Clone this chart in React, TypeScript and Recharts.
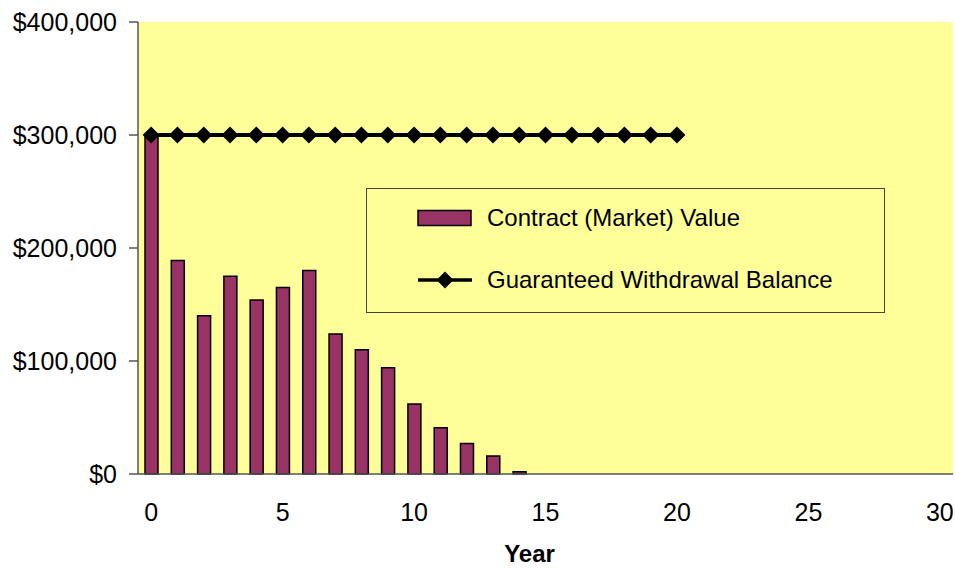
import {
  Bar,
  CartesianGrid,
  ComposedChart,
  Legend,
  Line,
  XAxis,
  YAxis,
} from "recharts";

const years = [
  0, 1, 2, 3, 4, 5, 6, 7, 8, 9, 10, 11, 12, 13, 14, 15, 16, 17, 18, 19, 20,
  21, 22, 23, 24, 25, 26, 27, 28, 29, 30,
];

const contractValue = [
  300000, 189000, 140000, 175000, 154000, 165000, 180000, 124000, 110000,
  94000, 62000, 41000, 27000, 16000, 2000, 0, 0, 0, 0, 0, 0, 0, 0, 0, 0, 0, 0,
  0, 0, 0, 0,
];

// guaranteed balance only runs through year 20
const guaranteedBalance = [
  300000, 300000, 300000, 300000, 300000, 300000, 300000, 300000, 300000,
  300000, 300000, 300000, 300000, 300000, 300000, 300000, 300000, 300000,
  300000, 300000, 300000,
];

const yTicks = [0, 100000, 200000, 300000, 400000];

const data = years.map((year, i) => ({
  year,
  contract: contractValue[i],
  gwb: i < guaranteedBalance.length ? guaranteedBalance[i] : null,
}));

const FONT = '"Liberation Sans", Arial, sans-serif';
const PLOT_BG = "#FFFF99";
const BAR_COLOR = "#993366";
const AXIS_COLOR = "#555555";

const fmtMoney = (v: number) => `$${v.toLocaleString("en-US")}`;

function Diamond(props: any) {
  const { cx, cy, index } = props;
  if (cx == null || cy == null || props.value == null) return <g key={`d-${index}`} />;
  const r = 8.5;
  return (
    <path
      key={`d-${index}`}
      d={`M${cx},${cy - r} L${cx + r},${cy} L${cx},${cy + r} L${cx - r},${cy} Z`}
      fill="#000"
    />
  );
}

function LegendBox() {
  const text = { fontFamily: FONT, fontSize: 24, color: "#000", lineHeight: "24px" };
  return (
    <div
      style={{
        width: 519,
        height: 125,
        background: PLOT_BG,
        border: "1px solid #444",
        boxSizing: "border-box",
        position: "relative",
      }}
    >
      <div style={{ position: "absolute", left: 50, top: 17, display: "flex", alignItems: "center" }}>
        <svg width={56} height={18}>
          <rect x={1} y={1.5} width={53} height={15} fill={BAR_COLOR} stroke="#000" strokeWidth={1.5} />
        </svg>
        <span style={{ ...text, marginLeft: 14 }}>Contract (Market) Value</span>
      </div>
      <div style={{ position: "absolute", left: 50, top: 79, display: "flex", alignItems: "center" }}>
        <svg width={56} height={20}>
          <line x1={1} y1={10} x2={55} y2={10} stroke="#000" strokeWidth={3.5} />
          <path d="M28,1.5 L36.5,10 L28,18.5 L19.5,10 Z" fill="#000" />
        </svg>
        <span style={{ ...text, marginLeft: 14 }}>Guaranteed Withdrawal Balance</span>
      </div>
    </div>
  );
}

export default function App() {
  return (
    <div style={{ position: "absolute", left: 0, top: 0, background: "#fff" }}>
      <ComposedChart
        width={955}
        height={569}
        data={data}
        margin={{ top: 22, right: 2, bottom: 0, left: 0 }}
        barCategoryGap="0%"
      >
        <CartesianGrid horizontal={false} vertical={false} fill={PLOT_BG} />
        <XAxis
          dataKey="year"
          type="category"
          interval={4}
          height={95}
          tickLine={false}
          tickSize={0}
          tickMargin={29}
          axisLine={{ stroke: AXIS_COLOR, strokeWidth: 1.5 }}
          tick={{ fill: "#000", fontSize: 25, fontFamily: FONT }}
          label={{
            value: "Year",
            position: "insideBottom",
            offset: 7,
            dx: -16,
            style: { fill: "#000", fontSize: 24, fontWeight: "bold", fontFamily: FONT },
          }}
        />
        <XAxis
          xAxisId="top"
          orientation="top"
          height={0}
          tick={false}
          tickLine={false}
          axisLine={{ stroke: "#888", strokeWidth: 1.5 }}
        />
        <YAxis
          width={138}
          domain={[0, 400000]}
          ticks={yTicks}
          interval={0}
          tickFormatter={fmtMoney}
          tickSize={9}
          tickMargin={12}
          tickLine={{ stroke: AXIS_COLOR, strokeWidth: 1.5 }}
          axisLine={{ stroke: AXIS_COLOR, strokeWidth: 1.5 }}
          tick={{ fill: "#000", fontSize: 25, fontFamily: FONT }}
        />
        <YAxis
          yAxisId="right"
          orientation="right"
          width={0}
          tick={false}
          tickLine={false}
          axisLine={{ stroke: "#888", strokeWidth: 1.5 }}
        />
        <Legend
          layout="vertical"
          align="center"
          verticalAlign="middle"
          wrapperStyle={{ position: "absolute", left: 366, top: 188, width: 519, height: 125 }}
          content={() => <LegendBox />}
        />
        <Bar
          dataKey="contract"
          name="Contract (Market) Value"
          barSize={13}
          fill={BAR_COLOR}
          stroke="#000"
          strokeWidth={1.5}
          isAnimationActive={false}
        />
        <Line
          dataKey="gwb"
          name="Guaranteed Withdrawal Balance"
          stroke="#000"
          strokeWidth={4}
          dot={Diamond}
          activeDot={false}
          connectNulls={false}
          isAnimationActive={false}
        />
      </ComposedChart>
    </div>
  );
}
